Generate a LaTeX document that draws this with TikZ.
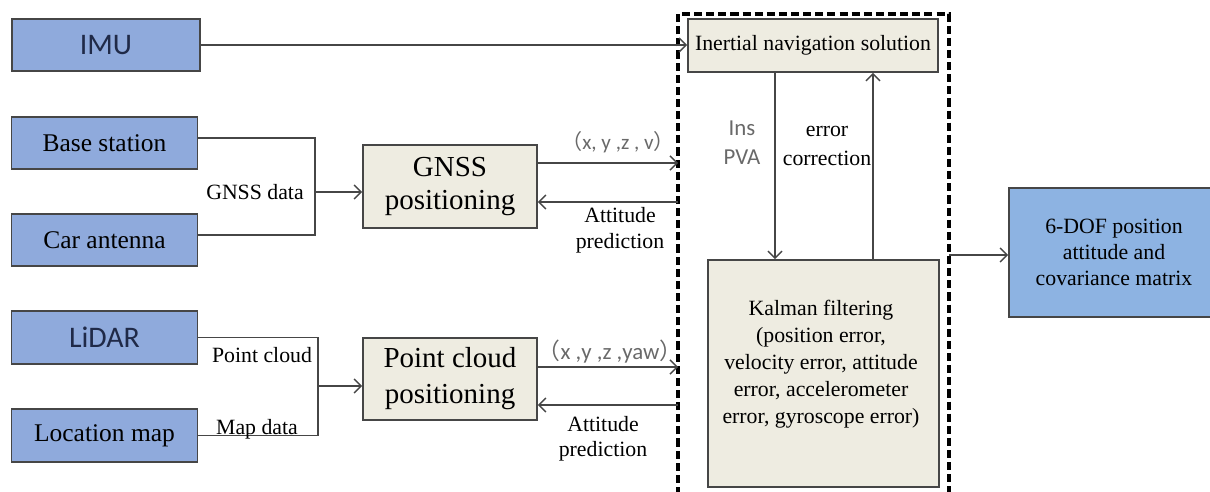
\documentclass[tikz,border=0pt]{standalone}
\usepackage{fontspec}
\setmainfont{Liberation Serif}
\newfontfamily\calibrifont{Carlito}
\newfontfamily\cjkfont{Noto Sans CJK SC}
\usetikzlibrary{arrows.meta,positioning}

\definecolor{srcblue}{RGB}{143,170,220}
\definecolor{outblue}{RGB}{141,179,226}
\definecolor{procfill}{RGB}{238,236,225}
\definecolor{edgegray}{RGB}{70,70,70}
\definecolor{labelgray}{RGB}{105,105,105}
\definecolor{navy}{RGB}{32,42,72}

\begin{document}
\begin{tikzpicture}[x=0.02cm, y=-0.02cm, >={Straight Barb[length=4pt,width=8pt]},
  srcbox/.style={draw=edgegray, line width=1pt, fill=srcblue, minimum width=3.72cm, minimum height=1.05cm, inner sep=0pt, font=\fontsize{14.5}{17}\selectfont},
  sansbox/.style={srcbox, font=\calibrifont\fontsize{17}{20}\selectfont, text=navy},
  procbox/.style={draw=edgegray, line width=1pt, fill=procfill, inner sep=0pt, align=center},
  wire/.style={draw=edgegray, line width=0.8pt},
  arr/.style={wire, ->},
  lbl/.style={font=\fontsize{12.4}{14.5}\selectfont, align=center, inner sep=0pt},
  sanslbl/.style={font=\calibrifont\fontsize{13}{16.5}\selectfont, text=labelgray, align=center, inner sep=0pt},
  fusionframe/.style={line width=1.8pt, dash pattern=on 4.6pt off 2.3pt}]
  \useasboundingbox (0,0) rectangle (1210,492);

  % Sensors and sources
  \node[sansbox, minimum width=3.76cm] (imu) at (106,45) {IMU};
  \node[srcbox] (base) at (104.5,143) {Base station};
  \node[srcbox] (car) at (104.5,240) {Car antenna};
  \node[sansbox] (lidar) at (104.5,337.5) {LiDAR};
  \node[srcbox] (locmap) at (104.5,435.5) {Location map};

  % Positioning blocks
  \node[procbox, minimum width=3.48cm, minimum height=1.66cm, font=\fontsize{16.5}{18.5}\selectfont] (gnss) at (450,186.5) {GNSS\\positioning};
  \node[procbox, minimum width=3.48cm, minimum height=1.64cm, font=\fontsize{16.5}{20.5}\selectfont] (pcpos) at (450,379) {Point cloud\\positioning};

  % Fusion part
  \draw[fusionframe] (678,495) -- (678,14) -- (949,14) -- (949,495);
  \node[procbox, minimum width=5cm, minimum height=1.06cm, font=\fontsize{12.4}{14}\selectfont] (ins) at (813,45.5) {Inertial navigation solution};
  \node[procbox, minimum width=4.62cm, minimum height=4.54cm] (kalman) at (823.5,373.5) {};
  \node[lbl, font=\fontsize{12.4}{15.4}\selectfont] (kaltext) at (821,364) {Kalman filtering\\(position error,\\velocity error, attitude\\error, accelerometer\\error, gyroscope error)};

  % Result
  \node[procbox, fill=outblue, minimum width=4.2cm, minimum height=2.58cm, font=\fontsize{12.4}{14.7}\selectfont] (sixdof) at (1114,252.5) {6-DOF position\\attitude and\\covariance matrix};

  % Junctions and frame ports
  \coordinate (gjoin) at (315,192);
  \coordinate (pjoin) at (318,386);
  \coordinate (gout) at (678,163);
  \coordinate (gin) at (678,202);
  \coordinate (pout) at (678,367);
  \coordinate (pin) at (678,405);
  \coordinate (kout) at (949,255);

  % IMU to inertial solution
  \draw[arr] (imu) -- (imu -| ins.west);

  % GNSS inputs
  \draw[wire] ([yshift=1mm]base.east) -| (gjoin) |- ([yshift=1mm]car.east);
  \draw[arr] (gjoin) -- (gjoin -| gnss.west);
  \node[lbl] (gdata) at (255,192) {GNSS data};

  % Point cloud inputs
  \draw[wire] (lidar.east) -| (pjoin) |- (locmap.east);
  \draw[arr] (pjoin) -- (pjoin -| pcpos.west);
  \node[lbl] (pcloud) at (262,355) {Point cloud};
  \node[lbl] (mapdata) at (257,429) {Map data};

  % Exchange with the filter
  \draw[arr] (gout -| gnss.east) -- (gout);
  \draw[arr] (gin) -- (gin -| gnss.east);
  \node[sanslbl, font=\calibrifont\fontsize{12}{15}\selectfont] (gxyz) at (618,142) {{\cjkfont （}x, y ,z , v{\cjkfont ）}};
  \node[lbl] (gatt) at (620,230.5) {Attitude\\prediction};
  \draw[arr] (pout -| pcpos.east) -- (pout);
  \draw[arr] (pin) -- (pin -| pcpos.east);
  \node[sanslbl] (pxyz) at (610,352) {{\cjkfont （}x ,y ,z ,yaw{\cjkfont ）}};
  \node[lbl] (patt) at (603,439) {Attitude\\prediction};

  % Filter loop
  \draw[arr] ([xshift=-0.76cm]ins.south) -- ([xshift=-0.76cm]ins.south |- kalman.north);
  \draw[arr] ([xshift=1.2cm]ins.south |- kalman.north) -- ([xshift=1.2cm]ins.south);
  \node[sanslbl] (pva) at (742,142.5) {Ins\\PVA};
  \node[lbl, font=\fontsize{12.4}{16}\selectfont] (errcor) at (827,146) {error\\correction};

  % Output
  \draw[arr] (kout) -- (kout -| sixdof.west);
\end{tikzpicture}
\end{document}
